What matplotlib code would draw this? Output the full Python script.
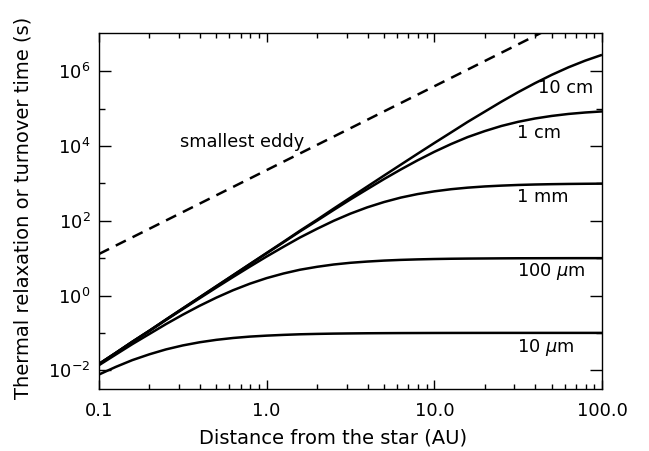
import matplotlib
matplotlib.use("Agg")
import matplotlib.pyplot as plt
from matplotlib.ticker import FixedLocator, FixedFormatter, NullFormatter

# ---- data ----
distance_au = [0.1, 0.126, 0.158, 0.2, 0.251, 0.316, 0.398, 0.501, 0.631, 0.794,
               1.0, 1.26, 1.58, 2.0, 2.51, 3.16, 3.98, 5.01, 6.31, 7.94,
               10.0, 12.6, 15.8, 20.0, 25.1, 31.6, 39.8, 50.1, 63.1, 79.4, 100.0]

tau_10um = [0.00771, 0.01233, 0.0187, 0.0268, 0.0362, 0.0462, 0.0561, 0.0652, 0.0731, 0.0796,
            0.0845, 0.0885, 0.0918, 0.0940, 0.0957, 0.0968, 0.0978, 0.0984, 0.0989, 0.0992,
            0.0995, 0.0997, 0.0998, 0.0999, 0.1, 0.1, 0.1, 0.1, 0.1, 0.1, 0.1]

tau_100um = [0.0137, 0.0264, 0.0500, 0.0938, 0.172, 0.307, 0.530, 0.877, 1.387, 2.07,
             2.92, 3.88, 4.89, 5.86, 6.75, 7.50, 8.09, 8.59, 8.97, 9.25,
             9.46, 9.62, 9.72, 9.79, 9.86, 9.91, 9.93, 9.95, 9.97, 9.98, 9.98]

tau_1mm = [0.01469, 0.0290, 0.0572, 0.1127, 0.2213, 0.433, 0.843, 1.633, 3.133, 5.92,
           11.04, 20.1, 35.6, 61.0, 99.5, 154.9, 228, 316, 416, 516,
           611, 697, 767, 826, 869, 905, 931, 950, 964, 974, 982]

tau_1cm = [0.01479, 0.0293, 0.0579, 0.1148, 0.2275, 0.4498, 0.889, 1.758, 3.475, 6.855,
           13.49, 26.5, 51.8, 100.7, 194, 372, 698, 1300, 2350, 4120,
           6970, 11270, 17260, 25000, 34200, 44200, 54200, 63500, 71800, 78500, 83900]

tau_10cm = [0.01479, 0.0293, 0.0581, 0.1151, 0.228, 0.452, 0.895, 1.774, 3.513, 6.95,
            13.77, 27.3, 54.0, 106.7, 211, 416, 820, 1613, 3162, 6172,
            11990, 23070, 43950, 82800, 152400, 274200, 476400, 796200, 1.27e6, 1.914e6, 2.735e6]

eddy_x = [0.1, 1.0, 10.0, 100.0]
eddy_tau = [12.9, 2260, 3.95e5, 6.92e7]

curve_labels = ["10 $\\mu$m", "100 $\\mu$m", "1 mm", "1 cm", "10 cm"]
label_pos = [(517, 347), (517, 272), (517, 197), (517, 133), (538, 88)]  # pixel positions
eddy_label = "smallest eddy"

x_major = [0.1, 1.0, 10.0, 100.0]
x_major_labels = ["0.1", "1.0", "10.0", "100.0"]
y_major = [1e-2, 1e0, 1e2, 1e4, 1e6]
y_major_labels = ["$10^{-2}$", "$10^{0}$", "$10^{2}$", "$10^{4}$", "$10^{6}$"]
y_minor = [1e-1, 1e1, 1e3, 1e5]

# ---- figure ----
W, H = 649, 451
fig = plt.figure(figsize=(W / 100, H / 100), dpi=100)
ax = fig.add_axes([99 / W, 1 - 389.3 / H, (602 - 99) / W, (389.3 - 33) / H])

lw = 1.8
for series in [tau_10um, tau_100um, tau_1mm, tau_1cm, tau_10cm]:
    ax.plot(distance_au, series, color="black", lw=lw, solid_capstyle="butt")
ax.plot(eddy_x, eddy_tau, color="black", lw=lw, linestyle=(0, (4.5, 3.0)))

ax.set_xscale("log")
ax.set_yscale("log")
ax.set_xlim(0.1, 100)
ax.set_ylim(3.1e-3, 1.05e7)

ax.xaxis.set_major_locator(FixedLocator(x_major))
ax.xaxis.set_major_formatter(FixedFormatter(x_major_labels))
x_minor = [m * d for d in [0.1, 1, 10] for m in range(2, 10)]
ax.xaxis.set_minor_locator(FixedLocator(x_minor))
ax.xaxis.set_minor_formatter(NullFormatter())

ax.yaxis.set_major_locator(FixedLocator(y_major))
ax.yaxis.set_major_formatter(FixedFormatter(y_major_labels))
ax.yaxis.set_minor_locator(FixedLocator(y_minor))
ax.yaxis.set_minor_formatter(NullFormatter())

ax.tick_params(axis="both", which="both", direction="in", top=True, right=True,
               width=1.0, colors="black", labelsize=13)
ax.tick_params(axis="x", which="major", length=6.5, pad=9)
ax.tick_params(axis="x", which="minor", length=3.3)
ax.tick_params(axis="y", which="major", length=8.5, pad=6)
ax.tick_params(axis="y", which="minor", length=4.3)
for s in ax.spines.values():
    s.set_linewidth(1.0)

ax.set_xlabel("Distance from the star (AU)", fontsize=14)
ax.set_ylabel("Thermal relaxation or turnover time (s)", fontsize=14)
ax.xaxis.set_label_coords((333 - 99) / 503, (389.3 - 438) / 356.3)
ax.yaxis.set_label_coords((23 - 99) / 503, (389.3 - 208) / 356.3)
ax.xaxis.label.set_va("center")
ax.yaxis.label.set_va("center")

# in-plot labels placed at pixel positions via figure coordinates
for txt, (px, py) in zip(curve_labels, label_pos):
    fig.text(px / W, 1 - py / H, txt, fontsize=12.8, ha="left", va="center")
fig.text(180 / W, 1 - 142 / H, eddy_label, fontsize=12.8, ha="left", va="center")

fig.savefig("out.png", dpi=100)
